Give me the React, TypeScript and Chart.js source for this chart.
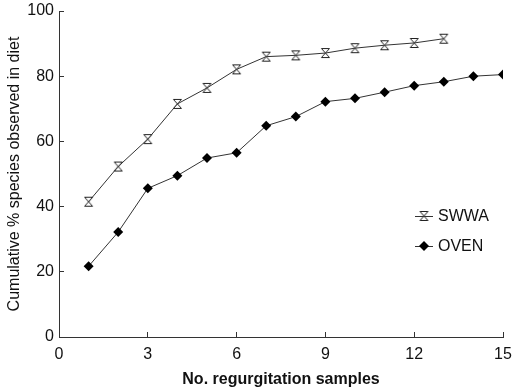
import React, { useEffect, useRef } from 'react';
import { Chart, registerables } from 'chart.js';

Chart.register(...registerables);

const swwaSamples = [1, 2, 3, 4, 5, 6, 7, 8, 9, 10, 11, 12, 13];
const swwaValues = [41.5, 52.3, 60.7, 71.5, 76.4, 82.1, 86.0, 86.4, 87.1, 88.6, 89.5, 90.2, 91.5];
const ovenSamples = [1, 2, 3, 4, 5, 6, 7, 8, 9, 10, 11, 12, 13, 14, 15];
const ovenValues = [21.7, 32.2, 45.6, 49.5, 54.9, 56.5, 64.8, 67.6, 72.2, 73.2, 75.1, 77.1, 78.3, 80.0, 80.5];
const seriesNames = ['SWWA', 'OVEN'];
const xTitle = 'No. regurgitation samples';
const yTitle = 'Cumulative % species observed in diet';

const FONT = '"Liberation Sans", Arial, Helvetica, sans-serif';
const INK = '#111';
const LINE = '#333';

function makeHourglass(): HTMLCanvasElement {
  const c = document.createElement('canvas');
  c.width = 11;
  c.height = 12;
  const ctx = c.getContext('2d')!;
  ctx.beginPath();
  ctx.moveTo(1.5, 1.5);
  ctx.lineTo(9.5, 1.5);
  ctx.lineTo(1.5, 10.5);
  ctx.lineTo(9.5, 10.5);
  ctx.closePath();
  ctx.fillStyle = '#fff';
  ctx.fill();
  ctx.strokeStyle = '#222';
  ctx.lineWidth = 1;
  ctx.stroke();
  return c;
}

const legendPlugin = {
  id: 'customLegend',
  afterDraw(chart: any) {
    const ctx = chart.ctx;
    const rows = [
      { y: 216, ds: chart.data.datasets[0] },
      { y: 246, ds: chart.data.datasets[1] },
    ];
    ctx.save();
    rows.forEach((r) => {
      const cx = 424;
      ctx.strokeStyle = LINE;
      ctx.lineWidth = 1;
      ctx.beginPath();
      ctx.moveTo(415, r.y + 0.5);
      ctx.lineTo(433, r.y + 0.5);
      ctx.stroke();
      const ps = r.ds.pointStyle;
      if (ps instanceof HTMLCanvasElement) {
        ctx.drawImage(ps, cx - ps.width / 2, r.y - ps.height / 2);
      } else {
        ctx.fillStyle = r.ds.pointBackgroundColor;
        ctx.beginPath();
        ctx.moveTo(cx, r.y - 5);
        ctx.lineTo(cx + 5, r.y);
        ctx.lineTo(cx, r.y + 5);
        ctx.lineTo(cx - 5, r.y);
        ctx.closePath();
        ctx.fill();
      }
      ctx.fillStyle = INK;
      ctx.font = '16px ' + FONT;
      ctx.textBaseline = 'middle';
      ctx.textAlign = 'left';
      ctx.fillText(r.ds.label, 438, r.y + 1);
    });
    ctx.restore();
  },
};

export default function App() {
  const ref = useRef<HTMLCanvasElement | null>(null);
  useEffect(() => {
    if (!ref.current) return;
    const hourglass = makeHourglass();
    const chart = new Chart(ref.current, {
      type: 'line',
      data: {
        datasets: [
          {
            label: seriesNames[0],
            data: swwaSamples.map((x, i) => ({ x, y: swwaValues[i] })),
            borderColor: LINE,
            borderWidth: 1,
            pointStyle: hourglass as any,
            pointRadius: 5,
            tension: 0,
          },
          {
            label: seriesNames[1],
            data: ovenSamples.map((x, i) => ({ x, y: ovenValues[i] })),
            borderColor: LINE,
            borderWidth: 1,
            pointStyle: 'rectRot',
            pointRadius: 5,
            pointBackgroundColor: '#000',
            pointBorderColor: '#000',
            pointBorderWidth: 0,
            tension: 0,
          },
        ],
      },
      options: {
        animation: false,
        responsive: true,
        maintainAspectRatio: false,
        layout: { autoPadding: false, padding: { top: 11, right: 9, left: 0, bottom: 0 } },
        plugins: {
          legend: { display: false },
          tooltip: { enabled: false },
        },
        scales: {
          x: {
            type: 'linear',
            min: 0,
            max: 15,
            ticks: {
              stepSize: 3,
              color: INK,
              font: { family: FONT, size: 16 },
              padding: 13,
              maxRotation: 0,
            },
            grid: {
              drawOnChartArea: false,
              tickLength: -5,
              color: LINE,
            },
            border: { display: true, color: LINE, width: 1 },
            title: {
              display: true,
              text: xTitle,
              color: INK,
              font: { family: FONT, size: 16, weight: 'bold' },
              padding: { top: 0, bottom: 2 },
            },
            afterFit: (s: any) => {
              s.height = 54;
              s.paddingLeft = 0;
              s.paddingRight = 0;
            },
          },
          y: {
            min: 0,
            max: 100,
            ticks: {
              stepSize: 20,
              color: INK,
              font: { family: FONT, size: 16 },
              padding: 10,
            },
            grid: {
              drawOnChartArea: false,
              tickLength: -5,
              color: LINE,
            },
            border: { display: true, color: LINE, width: 1 },
            title: {
              display: true,
              text: yTitle,
              color: INK,
              font: { family: FONT, size: 16 },
              padding: { top: 5, bottom: 0 },
            },
            afterFit: (s: any) => {
              s.width = 59;
              s.paddingTop = 0;
              s.paddingBottom = 0;
            },
          },
        },
      },
      plugins: [legendPlugin],
    });
    return () => chart.destroy();
  }, []);
  return (
    <div style={{ position: 'fixed', left: 0, top: 0, width: 512, height: 391, background: '#fff' }}>
      <canvas ref={ref} />
    </div>
  );
}
